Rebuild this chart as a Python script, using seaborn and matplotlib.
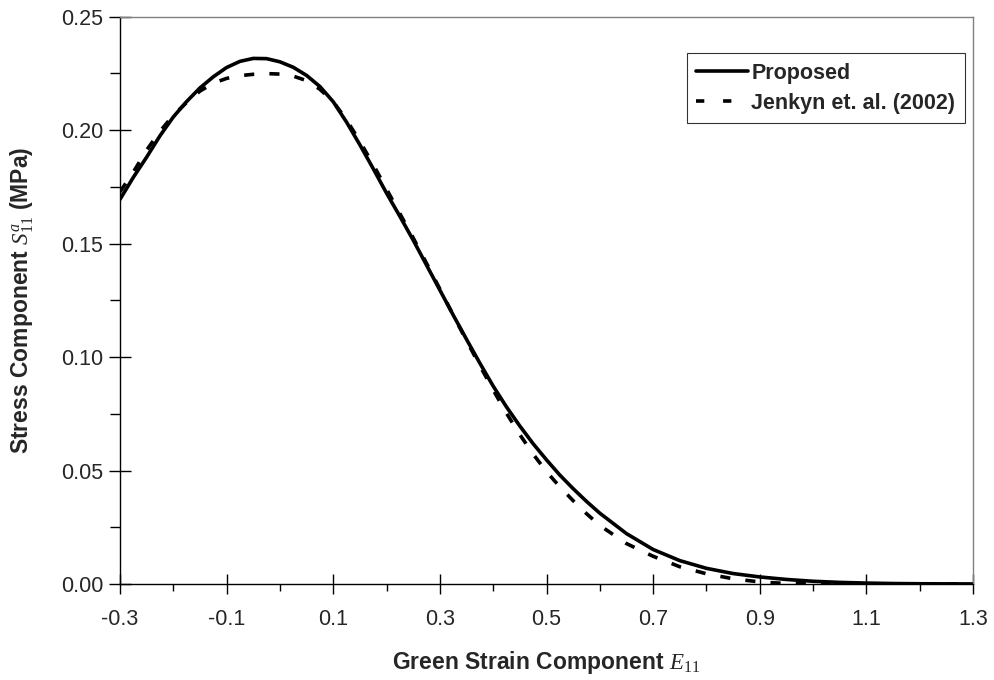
import numpy as np
import pandas as pd
import matplotlib
matplotlib.use("Agg")
import matplotlib.pyplot as plt
from matplotlib.lines import Line2D
from matplotlib.ticker import FixedLocator, FormatStrFormatter
import seaborn as sns

# DATA
strain = [-0.300, -0.275, -0.250, -0.225, -0.200, -0.175, -0.150, -0.125, -0.100, -0.075,
          -0.050, -0.025, 0.000, 0.025, 0.050, 0.075, 0.100, 0.125, 0.150, 0.175,
          0.200, 0.225, 0.250, 0.275, 0.300, 0.325, 0.350, 0.375, 0.400, 0.425,
          0.450, 0.475, 0.500, 0.525, 0.550, 0.575, 0.600, 0.650, 0.700, 0.750,
          0.800, 0.850, 0.900, 0.950, 1.000, 1.050, 1.100, 1.150, 1.200, 1.250,
          1.300]

proposed = [0.1695, 0.1792, 0.1881, 0.1975, 0.2058, 0.2126, 0.2186, 0.2235, 0.2276, 0.2303,
            0.2316, 0.2315, 0.2301, 0.2277, 0.2241, 0.2192, 0.2125, 0.2035, 0.1935, 0.1830,
            0.1722, 0.1620, 0.1515, 0.1405, 0.1295, 0.1185, 0.1078, 0.0973, 0.0872, 0.0780,
            0.0696, 0.0618, 0.0547, 0.0480, 0.0420, 0.0364, 0.0312, 0.0222, 0.0152, 0.0103,
            0.0069, 0.0046, 0.0031, 0.0020, 0.0012, 0.0007, 0.0004, 0.0002, 0.0001, 0.00005,
            0.00002]

jenkyn = [0.1728, 0.1815, 0.1912, 0.1995, 0.2065, 0.2122, 0.2172, 0.2207, 0.2228, 0.2240,
          0.2246, 0.2249, 0.2247, 0.2238, 0.2218, 0.2180, 0.2125, 0.2045, 0.1950, 0.1848,
          0.1740, 0.1632, 0.1525, 0.1413, 0.1300, 0.1185, 0.1072, 0.0962, 0.0855, 0.0752,
          0.0658, 0.0572, 0.0495, 0.0428, 0.0367, 0.0310, 0.0258, 0.0178, 0.0122, 0.0076,
          0.0045, 0.0023, 0.0009, 0.0002, 0.0, 0.0, 0.0, 0.0, 0.0, 0.0,
          0.0]

series_names = ["Proposed", "Jenkyn et. al. (2002)"]

x_major = [-0.3, -0.1, 0.1, 0.3, 0.5, 0.7, 0.9, 1.1, 1.3]
x_minor = [-0.2, 0.0, 0.2, 0.4, 0.6, 0.8, 1.0, 1.2]
y_major = [0.00, 0.05, 0.10, 0.15, 0.20, 0.25]
y_minor = [0.025, 0.075, 0.125, 0.175, 0.225]

# long format for seaborn
df = pd.concat([
    pd.DataFrame({"E11": strain, "S11": proposed, "series": series_names[0]}),
    pd.DataFrame({"E11": strain, "S11": jenkyn, "series": series_names[1]}),
], ignore_index=True)

# STYLE
sns.set_style("ticks")
plt.rcParams["font.family"] = ["Liberation Sans", "DejaVu Sans"]
plt.rcParams["mathtext.fontset"] = "custom"
plt.rcParams["mathtext.rm"] = "Liberation Serif"
plt.rcParams["mathtext.it"] = "Liberation Serif:italic"
plt.rcParams["mathtext.bf"] = "Liberation Serif:bold"

fig = plt.figure(figsize=(9.95, 6.8), dpi=100)
ax = fig.add_axes([0.1206, 0.1412, 0.8573, 0.8343])

sns.lineplot(
    data=df,
    x="E11",
    y="S11",
    hue="series",
    style="series",
    palette={n: "black" for n in series_names},
    dashes={series_names[0]: "", series_names[1]: (2.8, 4.2)},
    linewidth=2.6,
    legend=False,
    ax=ax,
)

ax.set_xlim(-0.3, 1.3)
ax.set_ylim(0, 0.25)

# ticks
ax.xaxis.set_major_locator(FixedLocator(x_major))
ax.xaxis.set_minor_locator(FixedLocator(x_minor))
ax.yaxis.set_major_locator(FixedLocator(y_major))
ax.yaxis.set_minor_locator(FixedLocator(y_minor))
ax.xaxis.set_major_formatter(FormatStrFormatter("%.1f"))
ax.yaxis.set_major_formatter(FormatStrFormatter("%.2f"))

ax.tick_params(axis="x", which="major", direction="inout", length=14, width=1,
               color="black", labelsize=15.5, pad=11)
ax.tick_params(axis="x", which="minor", direction="out", length=5, width=1, color="black")
ax.tick_params(axis="y", which="major", direction="inout", length=16, width=1,
               color="black", labelsize=15.5, pad=4)
ax.tick_params(axis="y", which="minor", direction="out", length=7, width=1, color="black")

# spines: gray box on top/right
for side in ["top", "right"]:
    ax.spines[side].set_visible(True)
    ax.spines[side].set_color("#808080")
    ax.spines[side].set_linewidth(1)
for side in ["left", "bottom"]:
    ax.spines[side].set_color("black")
    ax.spines[side].set_linewidth(1)

ax.set_xlabel("Green Strain Component $E_{11}$", fontsize=16.5, fontweight="bold", labelpad=14)
ax.set_ylabel("Stress Component $S_{11}^{a}$ (MPa)", fontsize=16.5, fontweight="bold", labelpad=18)

# legend (keys built by hand so the dashed key shows two short dashes)
handles = [
    Line2D([], [], color="black", linewidth=2.6),
    Line2D([], [], color="black", linewidth=2.6, linestyle=(0, (2.3, 5.2))),
]
leg = ax.legend(
    handles, series_names,
    loc="upper right",
    bbox_to_anchor=(0.9906, 0.9355),
    prop={"weight": "bold", "size": 15.5},
    frameon=True,
    fancybox=False,
    edgecolor="black",
    handlelength=2.4,
    handletextpad=0.15,
    borderpad=0.45,
    labelspacing=0.4,
    borderaxespad=0,
)
leg.get_frame().set_linewidth(0.8)

plt.savefig("out.png", dpi=100)
